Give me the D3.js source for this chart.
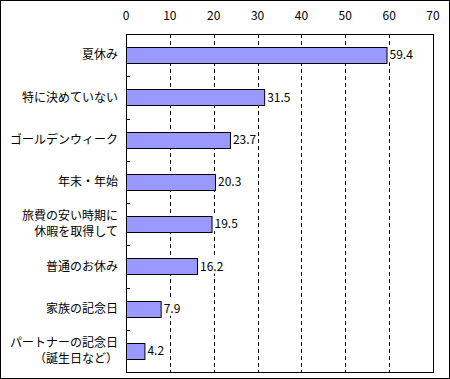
<!DOCTYPE html>
<html>
<head>
<meta charset="utf-8">
<script src="https://cdn.jsdelivr.net/npm/d3@7"></script>
<style>
  body { margin: 0; background: #fff; }
  text { font-family: "Noto Sans CJK JP", sans-serif; fill: #000; }
</style>
</head>
<body>
<svg></svg>
<script>
// categories (top to bottom), label lines split for two-line labels
var categories = [
    ["夏休み"],
    ["特に決めていない"],
    ["ゴールデンウィーク"],
    ["年末・年始"],
    ["旅費の安い時期に", "休暇を取得して"],
    ["普通のお休み"],
    ["家族の記念日"],
    ["パートナーの記念日", "（誕生日など）"]
]
var values = [59.4, 31.5, 23.7, 20.3, 19.5, 16.2, 7.9, 4.2]
var tickValues = [0, 10, 20, 30, 40, 50, 60, 70]

var canvasSize = {width: 450, height: 379}
var margin = {top: 34, right: 17, bottom: 7, left: 126}
var width = canvasSize.width - margin.left - margin.right,
    height = canvasSize.height - margin.top - margin.bottom

var svg = d3.select("svg")
    .attr("width", canvasSize.width)
    .attr("height", canvasSize.height)

// outer frame
svg.append("rect")
    .attr("x", 0.5).attr("y", 0.5)
    .attr("width", canvasSize.width - 1)
    .attr("height", canvasSize.height - 1)
    .attr("fill", "none")
    .attr("stroke", "#000")

var x = d3.scaleLinear().domain([0, 70]).range([0, width])
var y = d3.scaleBand().domain(d3.range(categories.length)).range([0, height])

var view = svg.append("g")
    .attr("transform", `translate(${margin.left},${margin.top})`)

// dashed grid lines
view.selectAll(".grid")
    .data(tickValues.filter(d => d > 0 && d < 70))
    .enter().append("line")
    .attr("class", "grid")
    .attr("x1", d => Math.round(x(d)) + 0.5)
    .attr("x2", d => Math.round(x(d)) + 0.5)
    .attr("y1", 0).attr("y2", height)
    .attr("stroke", "#000")
    .attr("stroke-dasharray", "4,3")

// top axis labels
view.selectAll(".tick-label")
    .data(tickValues)
    .enter().append("text")
    .attr("x", d => x(d))
    .attr("y", -14)
    .attr("text-anchor", "middle")
    .attr("font-size", 12)
    .text(d => d)

// category boundary ticks on the left axis
view.selectAll(".ytick")
    .data(d3.range(1, categories.length))
    .enter().append("line")
    .attr("x1", 0).attr("x2", 4)
    .attr("y1", d => Math.round(y(d)) + 0.5)
    .attr("y2", d => Math.round(y(d)) + 0.5)
    .attr("stroke", "#000")

// bars
var barH = 16
view.selectAll(".bar")
    .data(values)
    .enter().append("rect")
    .attr("class", "bar")
    .attr("x", 0.5)
    .attr("y", (d, i) => Math.round(y(i) + y.bandwidth() / 2 - barH / 2) + 0.5)
    .attr("width", d => x(d))
    .attr("height", barH)
    .attr("fill", "#9999FF")
    .attr("stroke", "#000")

// value labels on a white patch (hides grid lines behind them)
var valG = view.selectAll(".val")
    .data(values)
    .enter().append("g")
    .attr("class", "val")
valG.append("rect").attr("fill", "#fff")
valG.append("text")
    .attr("x", d => x(d) + 3)
    .attr("y", (d, i) => y(i) + y.bandwidth() / 2)
    .attr("dy", "0.35em")
    .attr("font-size", 12)
    .text(d => d.toFixed(1))
valG.each(function() {
    var g = d3.select(this)
    var b = g.select("text").node().getBBox()
    g.select("rect")
        .attr("x", b.x - 1).attr("y", b.y)
        .attr("width", b.width + 2).attr("height", b.height)
})

// category labels
categories.forEach((lines, i) => {
    var lh = 16
    lines.forEach((line, j) => {
        view.append("text")
            .attr("x", -8)
            .attr("y", y(i) + y.bandwidth() / 2 + (j - (lines.length - 1) / 2) * lh)
            .attr("dy", "0.35em")
            .attr("text-anchor", "end")
            .attr("font-size", 12)
            .text(line)
    })
})

// plot frame
view.append("rect")
    .attr("x", 0.5).attr("y", 0.5)
    .attr("width", width)
    .attr("height", height)
    .attr("fill", "none")
    .attr("stroke", "#000")
</script>
</body>
</html>
